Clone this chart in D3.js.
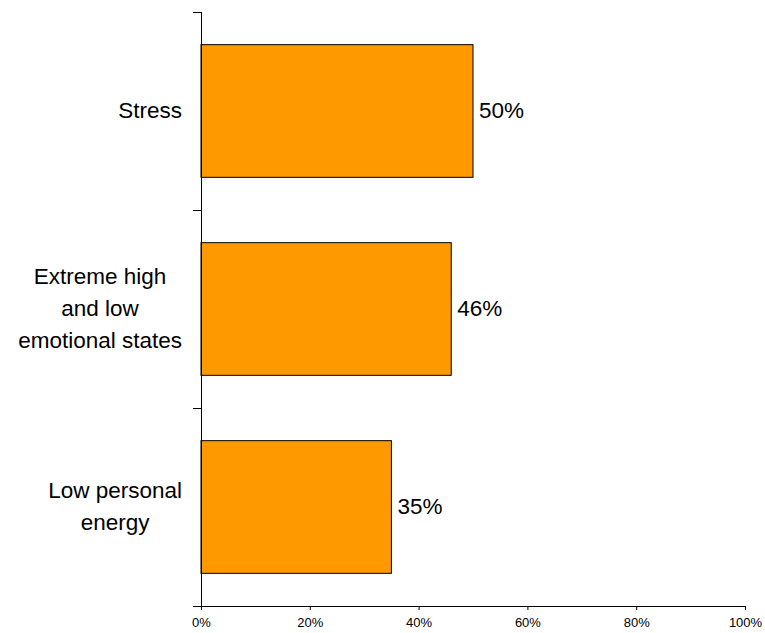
<!DOCTYPE html>
<html>
<head>
<meta charset="utf-8">
<script src="https://cdn.jsdelivr.net/npm/d3@7"></script>
<style>
  body { margin: 0; background: #fff; }
  svg { display: block; font-family: "Liberation Sans", Arial, sans-serif; }
</style>
</head>
<body>
<svg id="chart" width="765" height="633"></svg>
<script>
// Share of respondents citing each factor
const categories = ["Stress", "Extreme high and low emotional states", "Low personal energy"];
const categoryLines = [["Stress"], ["Extreme high", "and low", "emotional states"], ["Low personal", "energy"]];
const values = [50, 46, 35];
const tickValues = [0, 20, 40, 60, 80, 100];

const svg = d3.select("#chart");
const plotLeft = 201, plotRight = 745, plotTop = 12, plotBottom = 606;

const x = d3.scaleLinear().domain([0, 100]).range([plotLeft, plotRight]);
const y = d3.scaleBand().domain(categories).range([plotTop, plotBottom])
  .paddingInner(0.33).paddingOuter(0.165);

// Bars
svg.append("g").selectAll("rect").data(categories).join("rect")
  .attr("x", x(0))
  .attr("y", d => y(d))
  .attr("width", (d, i) => x(values[i]) - x(0))
  .attr("height", y.bandwidth())
  .attr("fill", "#FF9900")
  .attr("stroke", "#000")
  .attr("stroke-width", 1);

// Value labels
svg.append("g").selectAll("text").data(categories).join("text")
  .attr("x", (d, i) => x(values[i]) + 6)
  .attr("y", d => y(d) + y.bandwidth() / 2)
  .attr("dy", "0.3em")
  .attr("font-size", 22.5)
  .attr("fill", "#000")
  .text((d, i) => values[i] + "%");

// X axis
const xAxis = d3.axisBottom(x).tickValues(tickValues).tickSize(4).tickPadding(8)
  .tickFormat(d => d + "%");
const gx = svg.append("g").attr("transform", `translate(0,${plotBottom})`).call(xAxis);
gx.select(".domain").attr("d", `M${plotLeft - 8},0.5H${plotRight}`).attr("stroke", "#000");
gx.selectAll(".tick line").attr("stroke", "#000");
gx.selectAll(".tick text").attr("font-size", 13).attr("fill", "#000")
  .attr("font-family", "'Liberation Sans', Arial, sans-serif");

// Y axis line and category separators
svg.append("line").attr("x1", plotLeft + 0.5).attr("x2", plotLeft + 0.5)
  .attr("y1", plotTop).attr("y2", plotBottom).attr("stroke", "#000");
const bounds = d3.range(categories.length + 1).map(i => plotTop + i * (plotBottom - plotTop) / categories.length);
svg.append("g").selectAll("line").data(bounds).join("line")
  .attr("x1", plotLeft - 8).attr("x2", plotLeft)
  .attr("y1", d => Math.round(d) + 0.5).attr("y2", d => Math.round(d) + 0.5)
  .attr("stroke", "#000");

// Category labels: wrapped lines centred within a block right-aligned near the axis
const labelRight = 182, lineH = 32;
categories.forEach((c, i) => {
  const lines = categoryLines[i];
  const g = svg.append("g");
  const cy = y(c) + y.bandwidth() / 2;
  const texts = lines.map((t, j) => g.append("text")
    .attr("y", cy + (j - (lines.length - 1) / 2) * lineH)
    .attr("dy", "0.3em")
    .attr("font-size", 22.5)
    .attr("fill", "#000")
    .attr("text-anchor", "middle")
    .text(t));
  const maxW = d3.max(texts, t => t.node().getComputedTextLength());
  texts.forEach(t => t.attr("x", labelRight - maxW / 2));
});
</script>
</body>
</html>
